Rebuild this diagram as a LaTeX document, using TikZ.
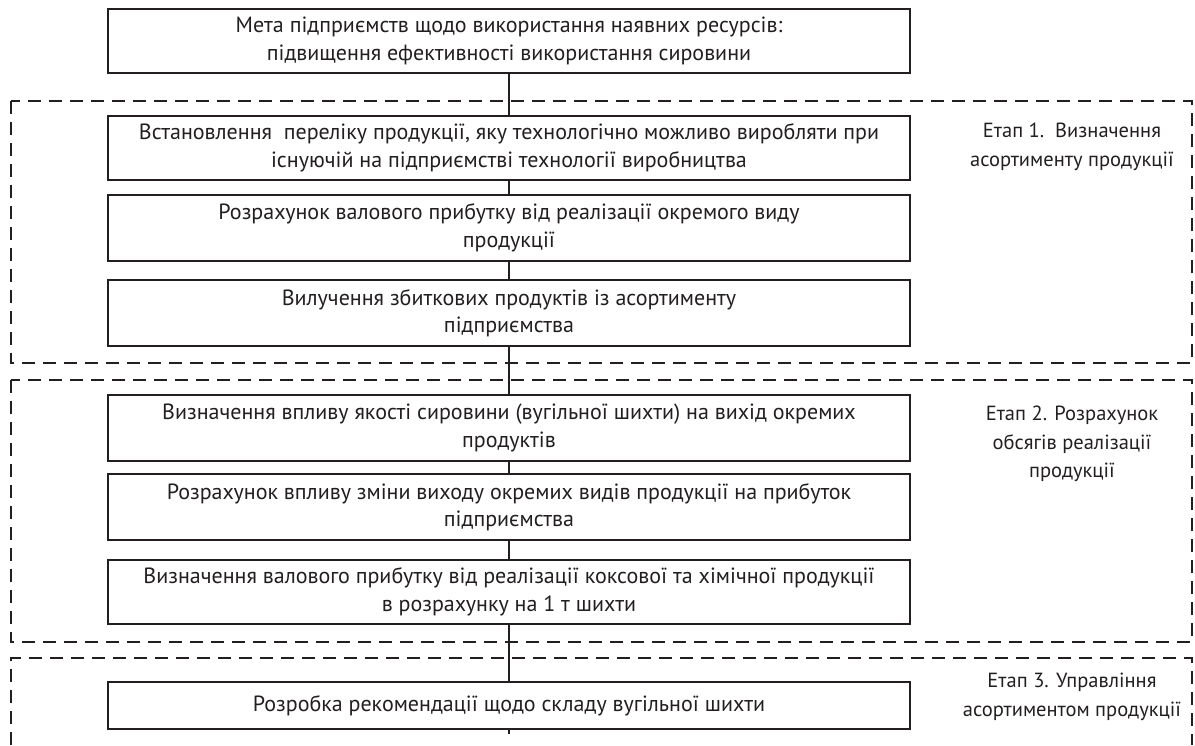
\documentclass[tikz,border=0pt]{standalone}
\usepackage{fontspec}
\setmainfont{PT Sans}
\definecolor{ink}{RGB}{35,31,32}
\begin{document}
\begin{tikzpicture}[x=1pt,y=-1pt,
  stepbox/.style={draw=ink, text=ink, line width=1.9pt, fill=white, minimum width=802pt,
    inner sep=0pt, align=center, font=\fontsize{22}{27.5}\selectfont},
  stagelabel/.style={align=center, inner sep=0pt, text=ink,
    font=\fontsize{20.5}{28.5}\selectfont},
  stageframe/.style={draw=ink, line width=1.8pt, dash pattern=on 13pt off 8pt},
  conn/.style={draw=ink, line width=1.4pt}]
\useasboundingbox (0,0) rectangle (1195,745);

% stage frames
\draw[stageframe] (11,101) rectangle (1192,363);
\draw[stageframe] (11,380) rectangle (1192,642);
\draw[stageframe] (11,745) -- (11,658) -- (1192,658) -- (1192,745);

% goal
\node[stepbox, minimum height=64pt] (goal) at (509,41)
  {Мета підприємств щодо використання наявних ресурсів:\\
   підвищення ефективності використання сировини};

% stage 1
\node[stepbox, minimum height=64pt] (s1a) at (509,148)
  {Встановлення\ \ переліку продукції, яку технологічно можливо виробляти при\\
   існуючій на підприємстві технології виробництва};
\node[stepbox, minimum height=66pt] (s1b) at (509,228)
  {Розрахунок валового прибутку від реалізації окремого виду\\ продукції};
\node[stepbox, minimum height=66pt] (s1c) at (509,313)
  {Вилучення збиткових продуктів із асортименту\\ підприємства};

% stage 2
\node[stepbox, minimum height=66pt] (s2a) at (509,428)
  {Визначення впливу якості сировини (вугільної шихти) на вихід окремих\\ продуктів};
\node[stepbox, minimum height=66pt] (s2b) at (509,507)
  {Розрахунок впливу зміни виходу окремих видів продукції на прибуток\\ підприємства};
\node[stepbox, minimum height=64pt] (s2c) at (509,592)
  {Визначення валового прибутку від реалізації коксової та хімічної продукції\\
   в розрахунку на 1 т шихти};

% stage 3
\node[stepbox, minimum height=47pt] (s3a) at (509,705.5)
  {Розробка рекомендації щодо складу вугільної шихти};

% stage labels
\node[stagelabel] (l1) at (1072,147) {Етап 1.\ \ Визначення\\ асортименту продукції};
\node[stagelabel] (l2) at (1072,444) {Етап 2. Розрахунок\\ обсягів реалізації\\ продукції};
\node[stagelabel] (l3) at (1072,697) {Етап 3. Управління\\ асортиментом продукції};

% connectors
\coordinate (tail) at (509,734);
\draw[conn] (goal.south) -- (s1a.north);
\draw[conn] (s1a.south) -- (s1b.north);
\draw[conn] (s1b.south) -- (s1c.north);
\draw[conn] (s1c.south) -- (s2a.north);
\draw[conn] (s2a.south) -- (s2b.north);
\draw[conn] (s2b.south) -- (s2c.north);
\draw[conn] (s2c.south) -- (s3a.north);
\draw[conn] (s3a.south) -- (tail);
\end{tikzpicture}
\end{document}
